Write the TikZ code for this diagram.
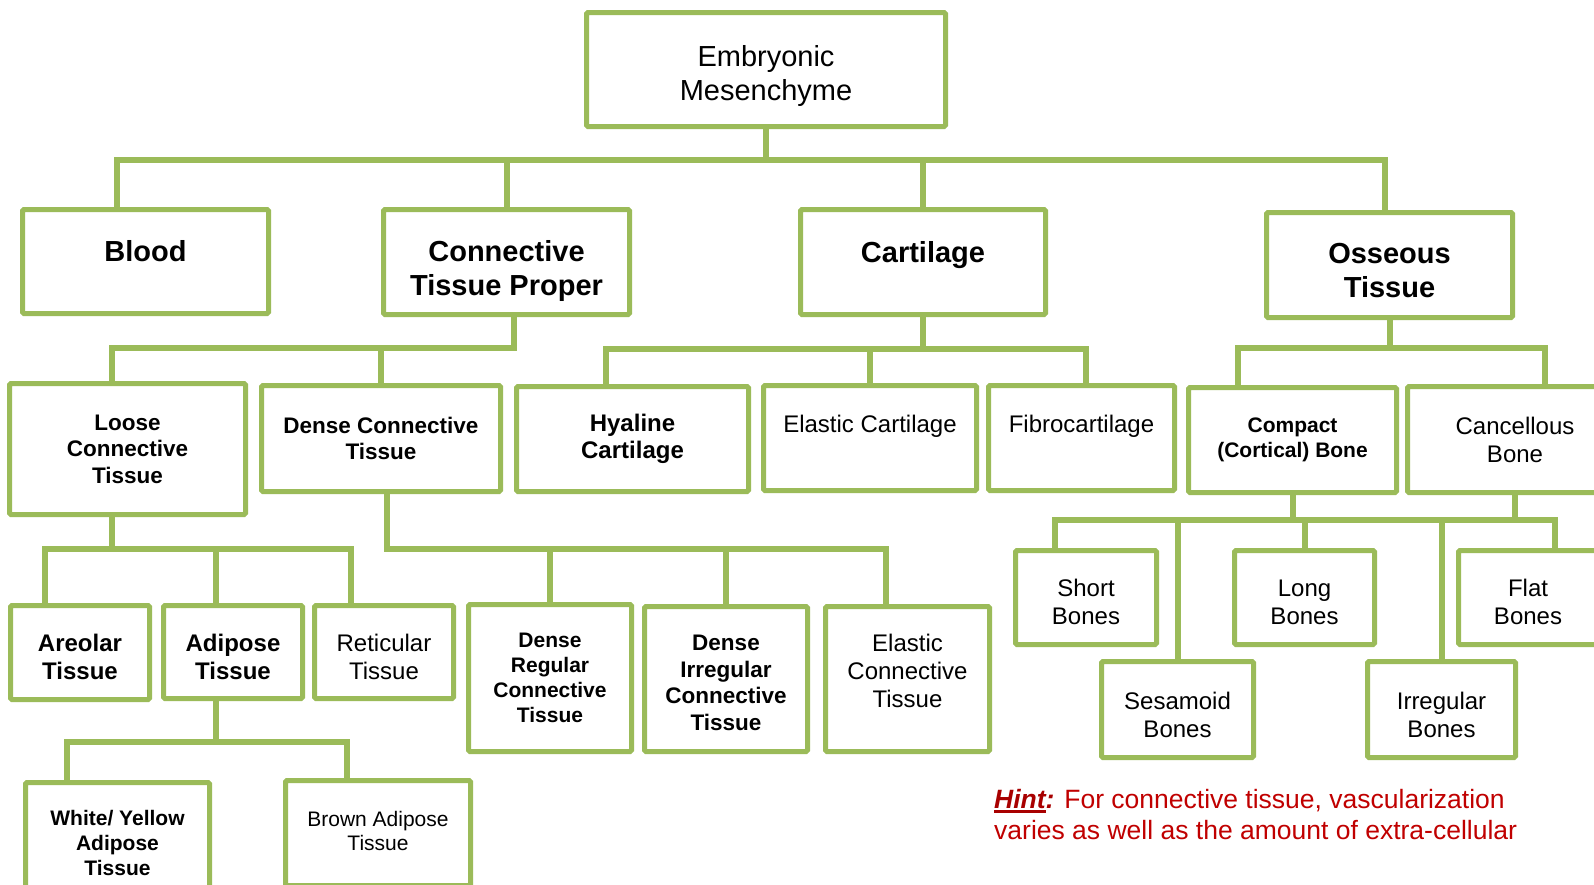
\documentclass[tikz,border=0pt]{standalone}
\usepackage{fontspec}
\setmainfont{Liberation Sans}
\usepackage{xcolor}
\usepackage{tikz}
\usetikzlibrary{backgrounds}

\definecolor{leaf}{HTML}{9BBB59}
\definecolor{hintred}{HTML}{C00000}
\definecolor{hintdark}{HTML}{A80000}
\newcommand\fs[2]{\fontsize{#1}{#2}\selectfont}
\newsavebox\hintbox
\newcommand\heavyul[1]{\sbox\hintbox{#1}\rlap{\rule[-4.5pt]{\wd\hintbox}{2.6pt}}\usebox\hintbox}

\begin{document}
\begin{tikzpicture}[x=1pt, y=-1pt,
	cell/.style={draw=leaf, line width=5, fill=white, rounded corners=1.5, inner sep=0, align=center},
	link/.style={draw=leaf, line width=6, line cap=rect},
	lift/.style={text height=#1, text depth=0},
	headbox/.style={cell, font=\fs{29}{34}},
	groupbox/.style={cell, font=\fs{29}{34}\bfseries},
	boldbox/.style={cell, font=\fs{22.5}{26.5}\bfseries},
	boldmid/.style={cell, font=\fs{24}{27.5}\bfseries},
	boldsmall/.style={cell, font=\fs{21}{25}\bfseries},
	plainbox/.style={cell, font=\fs{24}{28}},
	plainsmall/.style={cell, font=\fs{21}{24}},
	hint/.style={font=\fs{26.5}{31.5}, text=hintred, align=left, inner sep=0}
]
\useasboundingbox (0,0) rectangle (1594,884);

% top
\node[headbox, lift=61, minimum width=359, minimum height=114] (embryo) at (766,69.5) {Embryonic\\Mesenchyme};

% first row
\node[groupbox, minimum width=246, minimum height=104, text height=11, text depth=11] (blood) at (145.5,261.5) {Blood};
\node[groupbox, lift=66, minimum width=246, minimum height=105] (ctp) at (506.5,262) {Connective\\Tissue Proper};
\node[groupbox, minimum width=245, minimum height=105, text height=11, text depth=11] (cart) at (923,262) {Cartilage};
\node[groupbox, lift=64, minimum width=246, minimum height=105] (oss) at (1389.5,265) {Osseous\\Tissue};

% second row
\node[boldbox, minimum width=236, minimum height=131] (loose) at (127.5,449) {Loose\\Connective\\Tissue};
\node[boldbox, minimum width=239, minimum height=106] (dense) at (381,438.5) {Dense Connective\\Tissue};
\node[boldmid, minimum width=232, minimum height=105] (hyal) at (632.5,439) {Hyaline\\Cartilage};
\node[plainbox, minimum width=213, minimum height=105, text height=8, text depth=19] (elcart) at (870,438) {Elastic Cartilage};
\node[plainbox, minimum width=186, minimum height=105, text height=8, text depth=19] (fibro) at (1081.5,438) {Fibrocartilage};
\node[boldsmall, minimum width=208, minimum height=105] (compact) at (1292.5,440) {Compact\\(Cortical) Bone};
\node[plainbox, minimum width=215, minimum height=106] (cancel) at (1515,439.5) {Cancellous\\Bone};

% third row
\node[boldmid, lift=53, minimum width=139, minimum height=94] (areolar) at (80,652.5) {Areolar\\Tissue};
\node[boldmid, lift=54, minimum width=139, minimum height=93] (adipose) at (233,652) {Adipose\\Tissue};
\node[plainbox, lift=54, minimum width=139, minimum height=93] (retic) at (384,652) {Reticular\\Tissue};
\node[boldsmall, minimum width=163, minimum height=147] (dreg) at (550,678) {Dense\\Regular\\Connective\\Tissue};
\node[boldbox, lift=102, minimum width=163, minimum height=145] (dirr) at (726,679) {Dense\\Irregular\\Connective\\Tissue};
\node[plainbox, lift=57, minimum width=164, minimum height=145] (elct) at (907.5,679) {Elastic\\Connective\\Tissue};

% bones
\node[plainbox, lift=54, minimum width=141, minimum height=94] (short) at (1086,597.5) {Short\\Bones};
\node[plainbox, lift=54, minimum width=140, minimum height=94] (long) at (1304.5,597.5) {Long\\Bones};
\node[plainbox, lift=54, minimum width=139, minimum height=94] (flat) at (1528,597.5) {Flat\\Bones};
\node[plainbox, lift=56, minimum width=152, minimum height=96] (sesam) at (1177.5,709.5) {Sesamoid\\Bones};
\node[plainbox, lift=56, minimum width=148, minimum height=96] (irreg) at (1441.5,709.5) {Irregular\\Bones};

% adipose
\node[boldsmall, minimum width=184, minimum height=121] (white) at (117.5,843) {White/ Yellow\\Adipose\\Tissue};
\node[plainsmall, lift=35, minimum width=185, minimum height=105] (brown) at (378,833) {Brown Adipose\\Tissue};

\node[hint, anchor=west] (note) at (994,814.5) {\textcolor{hintdark}{\bfseries\itshape\heavyul{Hint}:} For connective tissue, vascularization\\varies as well as the amount of extra-cellular};

\begin{pgfonlayer}{background}
\coordinate (r1a) at (117,160);
\coordinate (r1b) at (1385,160);
\draw[link] (r1a) -- (r1b);
\draw[link] (embryo) -- (embryo |- r1a);
\draw[link] (blood.north -| r1a) -- (r1a);
\draw[link] (ctp) -- (ctp |- r1a);
\draw[link] (cart) -- (cart |- r1a);
\draw[link] (oss.north -| r1b) -- (r1b);

\coordinate (r2a) at (112,348);
\coordinate (r2b) at (514,348);
\draw[link] (r2a) -- (r2b);
\draw[link] (ctp.south -| r2b) -- (r2b);
\draw[link] (loose.north -| r2a) -- (r2a);
\draw[link] (dense) -- (dense |- r2a);

\coordinate (r3a) at (606,349);
\coordinate (r3b) at (1086,349);
\draw[link] (r3a) -- (r3b);
\draw[link] (cart) -- (cart |- r3a);
\draw[link] (hyal.north -| r3a) -- (r3a);
\draw[link] (elcart) -- (elcart |- r3a);
\draw[link] (fibro.north -| r3b) -- (r3b);

\coordinate (r4a) at (1238,348);
\coordinate (r4b) at (1545,348);
\draw[link] (r4a) -- (r4b);
\draw[link] (oss) -- (oss |- r4a);
\draw[link] (compact.north -| r4a) -- (r4a);
\draw[link] (cancel.north -| r4b) -- (r4b);

\coordinate (r5a) at (45,549);
\coordinate (r5b) at (351,549);
\coordinate (r5c) at (216,549);
\draw[link] (r5a) -- (r5b);
\draw[link] (loose.south -| r2a) -- (r2a |- r5a);
\draw[link] (areolar.north -| r5a) -- (r5a);
\draw[link] (adipose.north -| r5c) -- (r5c);
\draw[link] (retic.north -| r5b) -- (r5b);

\coordinate (r6a) at (387,549);
\coordinate (r6b) at (886,549);
\draw[link] (r6a) -- (r6b);
\draw[link] (dense.south -| r6a) -- (r6a);
\draw[link] (dreg) -- (dreg |- r6a);
\draw[link] (dirr) -- (dirr |- r6a);
\draw[link] (elct.north -| r6b) -- (r6b);

\coordinate (r7a) at (1055,520);
\coordinate (r7b) at (1555,520);
\draw[link] (r7a) -- (r7b);
\draw[link] (compact) -- (compact |- r7a);
\draw[link] (cancel) -- (cancel |- r7a);
\draw[link] (short.north -| r7a) -- (r7a);
\draw[link] (sesam) -- (sesam |- r7a);
\draw[link] (long) -- (long |- r7a);
\draw[link] (irreg) -- (irreg |- r7a);
\draw[link] (flat.north -| r7b) -- (r7b);

\coordinate (r8a) at (67,742);
\coordinate (r8b) at (347,742);
\draw[link] (r8a) -- (r8b);
\draw[link] (adipose.south -| r5c) -- (r5c |- r8a);
\draw[link] (white.north -| r8a) -- (r8a);
\draw[link] (brown.north -| r8b) -- (r8b);
\end{pgfonlayer}
\end{tikzpicture}
\end{document}
